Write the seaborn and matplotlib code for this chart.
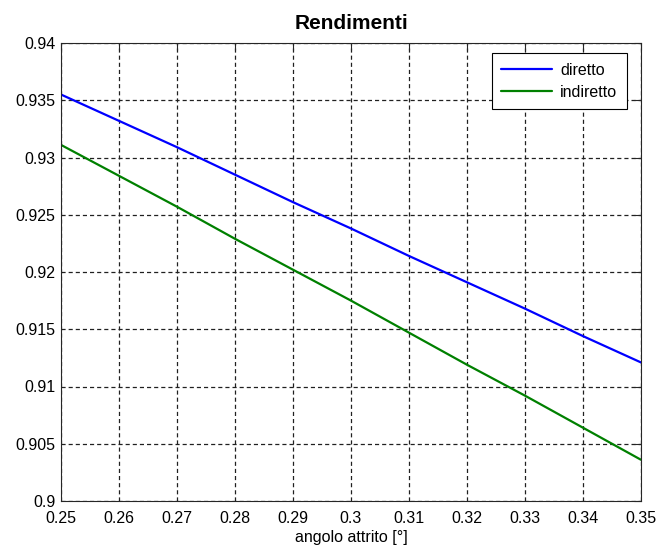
import numpy as np
import pandas as pd
import matplotlib
matplotlib.use("Agg")
import matplotlib.pyplot as plt
import seaborn as sns

# Friction angle samples and efficiencies
angolo = [0.25, 0.26, 0.27, 0.28, 0.29, 0.30, 0.31, 0.32, 0.33, 0.34, 0.35]
diretto = [0.9355, 0.9332, 0.9309, 0.9285, 0.9261, 0.9238, 0.9214, 0.9191, 0.9168, 0.9144, 0.9121]
indiretto = [0.9311, 0.9284, 0.9257, 0.9229, 0.9202, 0.9175, 0.9147, 0.9119, 0.9092, 0.9064, 0.9036]
series_names = ["diretto", "indiretto"]
x_ticks = [0.25, 0.26, 0.27, 0.28, 0.29, 0.30, 0.31, 0.32, 0.33, 0.34, 0.35]
x_tick_labels = ["0.25", "0.26", "0.27", "0.28", "0.29", "0.3", "0.31", "0.32", "0.33", "0.34", "0.35"]
y_ticks = [0.9, 0.905, 0.91, 0.915, 0.92, 0.925, 0.93, 0.935, 0.94]
y_tick_labels = ["0.9", "0.905", "0.91", "0.915", "0.92", "0.925", "0.93", "0.935", "0.94"]

df = pd.DataFrame({
    "angolo": angolo * 2,
    "rendimento": diretto + indiretto,
    "serie": [series_names[0]] * len(angolo) + [series_names[1]] * len(angolo),
})

sns.set_theme(style="white")
plt.rcParams["font.family"] = ["Liberation Sans", "DejaVu Sans"]
plt.rcParams["text.color"] = "black"
plt.rcParams["axes.labelcolor"] = "black"

fig = plt.figure(figsize=(6.57, 5.52), dpi=100)
ax = fig.add_axes([61 / 657, 51 / 552, 580 / 657, 458 / 552])

sns.lineplot(data=df, x="angolo", y="rendimento", hue="serie",
             palette={"diretto": "#0000ff", "indiretto": "#008000"},
             linewidth=1.6, ax=ax, legend=True)

ax.set_xlim(0.25, 0.35)
ax.set_ylim(0.9, 0.94)
ax.set_xticks(x_ticks)
ax.set_xticklabels(x_tick_labels)
ax.set_yticks(y_ticks)
ax.set_yticklabels(y_tick_labels)
ax.tick_params(direction="in", length=5, width=0.8, top=True, right=True,
               labelsize=11.5, colors="#262626", labelcolor="black", pad=4)
ax.tick_params(axis="x", pad=7)
ax.grid(True, color="#202020", linestyle=(0, (3.3, 2.4)), linewidth=0.9)
for s in ax.spines.values():
    s.set_color("#262626")
    s.set_linewidth(0.8)

ax.set_xlabel("angolo attrito [°]", fontsize=11.5, labelpad=3, color="black")
ax.set_ylabel("")
ax.set_title("Rendimenti", fontsize=15, fontweight="bold", pad=10, color="black")

leg = ax.legend(loc="upper right", bbox_to_anchor=(0.976, 0.978),
                fontsize=11.5, frameon=True, fancybox=False,
                edgecolor="black", framealpha=1, handlelength=3.2,
                handletextpad=0.5, borderaxespad=0.0, borderpad=0.6,
                labelspacing=0.45)
leg.get_frame().set_linewidth(0.8)
leg.set_title(None)
for t in leg.get_texts():
    t.set_color("black")

fig.savefig("out.png", dpi=100, facecolor="white")
